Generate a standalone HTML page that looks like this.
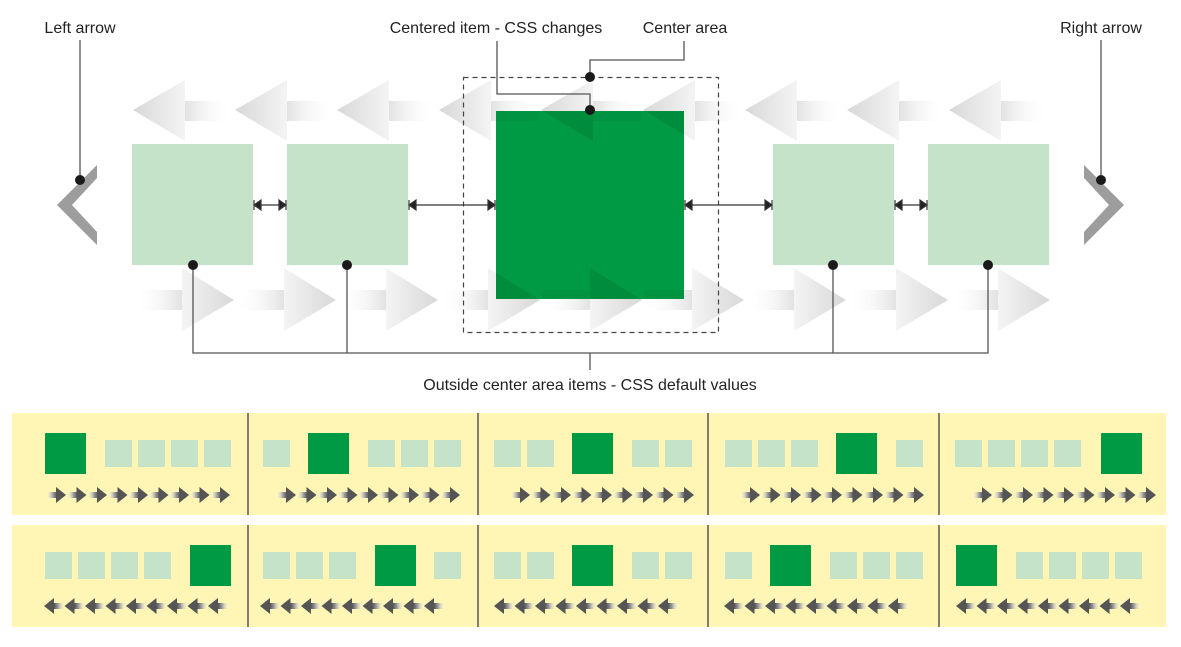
<!DOCTYPE html>
<html><head><meta charset="utf-8"><style>
html,body{margin:0;padding:0;background:#fff;width:1181px;height:647px;overflow:hidden}
svg{display:block}
text{font-family:"Liberation Sans",sans-serif;font-size:16px;fill:#222}
</style></head><body>
<svg id="s" width="1181" height="647" viewBox="0 0 1181 647" xmlns="http://www.w3.org/2000/svg">
<defs>
<linearGradient id="gl" x1="0" x2="1" y1="0" y2="0"><stop offset="0" stop-color="#d8d8d8"/><stop offset="1" stop-color="#f4f4f4"/></linearGradient>
<linearGradient id="sl" x1="0" x2="1" y1="0" y2="0"><stop offset="0" stop-color="#e2e2e2"/><stop offset="1" stop-color="#fff" stop-opacity="0"/></linearGradient>
<linearGradient id="gr" x1="0" x2="1" y1="0" y2="0"><stop offset="0" stop-color="#f4f4f4"/><stop offset="1" stop-color="#d8d8d8"/></linearGradient>
<linearGradient id="sr" x1="0" x2="1" y1="0" y2="0"><stop offset="0" stop-color="#fff" stop-opacity="0"/><stop offset="1" stop-color="#e2e2e2"/></linearGradient>
<linearGradient id="ar" x1="0" x2="1"><stop offset="0" stop-color="#fff" stop-opacity="0"/><stop offset="0.55" stop-color="#999"/><stop offset="1" stop-color="#333"/></linearGradient>
<linearGradient id="al" x1="0" x2="1"><stop offset="0" stop-color="#333"/><stop offset="0.45" stop-color="#999"/><stop offset="1" stop-color="#fff" stop-opacity="0"/></linearGradient>
<clipPath id="cg"><rect x="496" y="111" width="188" height="188"/></clipPath>
</defs>
<g id="bg"></g>
<rect x="132" y="144" width="121" height="121" fill="#c5e3c9"/>
<rect x="287" y="144" width="121" height="121" fill="#c5e3c9"/>
<rect x="773" y="144" width="121" height="121" fill="#c5e3c9"/>
<rect x="928" y="144" width="121" height="121" fill="#c5e3c9"/>
<rect x="496" y="111" width="188" height="188" fill="#009a44"/>
<g id="fg" clip-path="url(#cg)"></g>
<rect x="463.5" y="77.5" width="255" height="255" fill="none" stroke="#444" stroke-width="1.2" stroke-dasharray="5,4"/>
<polygon points="97,165 97,178 72,205 97,232 97,245 57,205" fill="#9d9d9d"/>
<polygon points="1084,165 1084,178 1109,205 1084,232 1084,245 1124,205" fill="#9d9d9d"/>
<g stroke="#333" stroke-width="1.2" fill="#222">
<line x1="254" y1="205" x2="286" y2="205"/><polygon points="254,205 261,200 261,210"/><polygon points="286,205 279,200 279,210"/><line x1="254" y1="200" x2="254" y2="210"/><line x1="286" y1="200" x2="286" y2="210"/>
<line x1="409" y1="205" x2="495" y2="205"/><polygon points="409,205 416,200 416,210"/><polygon points="495,205 488,200 488,210"/><line x1="409" y1="200" x2="409" y2="210"/><line x1="495" y1="200" x2="495" y2="210"/>
<line x1="685" y1="205" x2="772" y2="205"/><polygon points="685,205 692,200 692,210"/><polygon points="772,205 765,200 765,210"/><line x1="685" y1="200" x2="685" y2="210"/><line x1="772" y1="200" x2="772" y2="210"/>
<line x1="895" y1="205" x2="927" y2="205"/><polygon points="895,205 902,200 902,210"/><polygon points="927,205 920,200 920,210"/><line x1="895" y1="200" x2="895" y2="210"/><line x1="927" y1="200" x2="927" y2="210"/>
</g>
<g stroke="#555" stroke-width="1.3" fill="none">
<polyline points="80,40 80,178"/>
<polyline points="1101,40 1101,180"/>
<polyline points="497,41 497,94 590,94 590,110"/>
<polyline points="684,41 684,60 590,60 590,77"/>
<polyline points="193,265 193,353 988,353 988,265"/>
<line x1="347" y1="265" x2="347" y2="353"/><line x1="833" y1="265" x2="833" y2="353"/>
<line x1="590" y1="353" x2="590" y2="370"/>
</g>
<g fill="#1a1a1a">
<circle cx="80" cy="180" r="5"/><circle cx="1101" cy="180" r="5"/>
<circle cx="590" cy="110" r="5"/><circle cx="590" cy="77" r="5"/>
<circle cx="193" cy="265" r="5"/><circle cx="347" cy="265" r="5"/><circle cx="833" cy="265" r="5"/><circle cx="988" cy="265" r="5"/>
</g>
<text x="80" y="33" text-anchor="middle">Left arrow</text>
<text x="1101" y="33" text-anchor="middle">Right arrow</text>
<text x="496" y="33" text-anchor="middle">Centered item - CSS changes</text>
<text x="685" y="33" text-anchor="middle">Center area</text>
<text x="590" y="390" text-anchor="middle">Outside center area items - CSS default values</text>
<rect x="12" y="413" width="1154" height="102" fill="#fff6b5"/>
<rect x="12" y="525" width="1154" height="102" fill="#fff6b5"/>
<g stroke="#555" stroke-width="1.5">
<line x1="248" y1="413" x2="248" y2="515"/><line x1="478" y1="413" x2="478" y2="515"/><line x1="708" y1="413" x2="708" y2="515"/><line x1="939" y1="413" x2="939" y2="515"/>
<line x1="248" y1="525" x2="248" y2="627"/><line x1="478" y1="525" x2="478" y2="627"/><line x1="708" y1="525" x2="708" y2="627"/><line x1="939" y1="525" x2="939" y2="627"/>
</g>
<g id="pn"></g>
</svg>
<script>
var NS="http://www.w3.org/2000/svg";
function el(p,t,a){var e=document.createElementNS(NS,t);for(var k in a)e.setAttribute(k,a[k]);p.appendChild(e);return e;}
var bg=document.getElementById('bg'),fg=document.getElementById('fg'),pn=document.getElementById('pn');
function bigL(g,tip,f1,f2){el(g,'rect',{x:tip+52,y:101,width:48,height:20,fill:f2||'url(#sl)'});el(g,'polygon',{points:tip+',110 '+(tip+52)+',80 '+(tip+52)+',141',fill:f1||'url(#gl)'});}
function bigR(g,tip,f1,f2){el(g,'rect',{x:tip-100,y:290,width:48,height:20,fill:f2||'url(#sr)'});el(g,'polygon',{points:tip+',300 '+(tip-52)+',268 '+(tip-52)+',331',fill:f1||'url(#gr)'});}
for(var t=133;t<=1000;t+=102){bigL(bg,t);bigL(fg,t,'rgba(0,0,0,0.09)','rgba(0,0,0,0.04)');}
for(var t=234;t<=1050;t+=102){bigR(bg,t);bigR(fg,t,'rgba(0,0,0,0.09)','rgba(0,0,0,0.04)');}
var r1=[[[45,1],105,138,171,204],[263,[308,1],368,401,434],[494,527,[572,1],632,665],[725,758,791,[836,1],896],[955,988,1021,1054,[1101,1]]];
var r2=[[45,78,111,144,[190,1]],[263,296,329,[375,1],434],[494,527,[572,1],632,665],[725,[770,1],830,863,896],[[956,1],1016,1049,1082,1115]];
function sq(rows,y){rows.forEach(function(p){p.forEach(function(v){if(typeof v=='number')el(pn,'rect',{x:v,y:y+7,width:27,height:27,fill:'#c5e3c9'});else el(pn,'rect',{x:v[0],y:y,width:41,height:41,fill:'#009a44'});});});}
sq(r1,433);sq(r2,545);
var a1=[46,276,510,740,972],a2=[44,260,494,724,956];
a1.forEach(function(x0){for(var i=0;i<9;i++){var x=x0+i*20.5;el(pn,'rect',{x:x,y:492,width:13,height:6,fill:'url(#ar)'});el(pn,'polygon',{points:(x+10)+',487 '+(x+10)+',503 '+(x+20)+',495',fill:'#555'});}});
a2.forEach(function(x0){for(var i=0;i<9;i++){var x=x0+i*20.5;el(pn,'rect',{x:x+8,y:603,width:13,height:6,fill:'url(#al)'});el(pn,'polygon',{points:x+',606 '+(x+10)+',598 '+(x+10)+',614',fill:'#555'});}});
</script>
</body></html>
